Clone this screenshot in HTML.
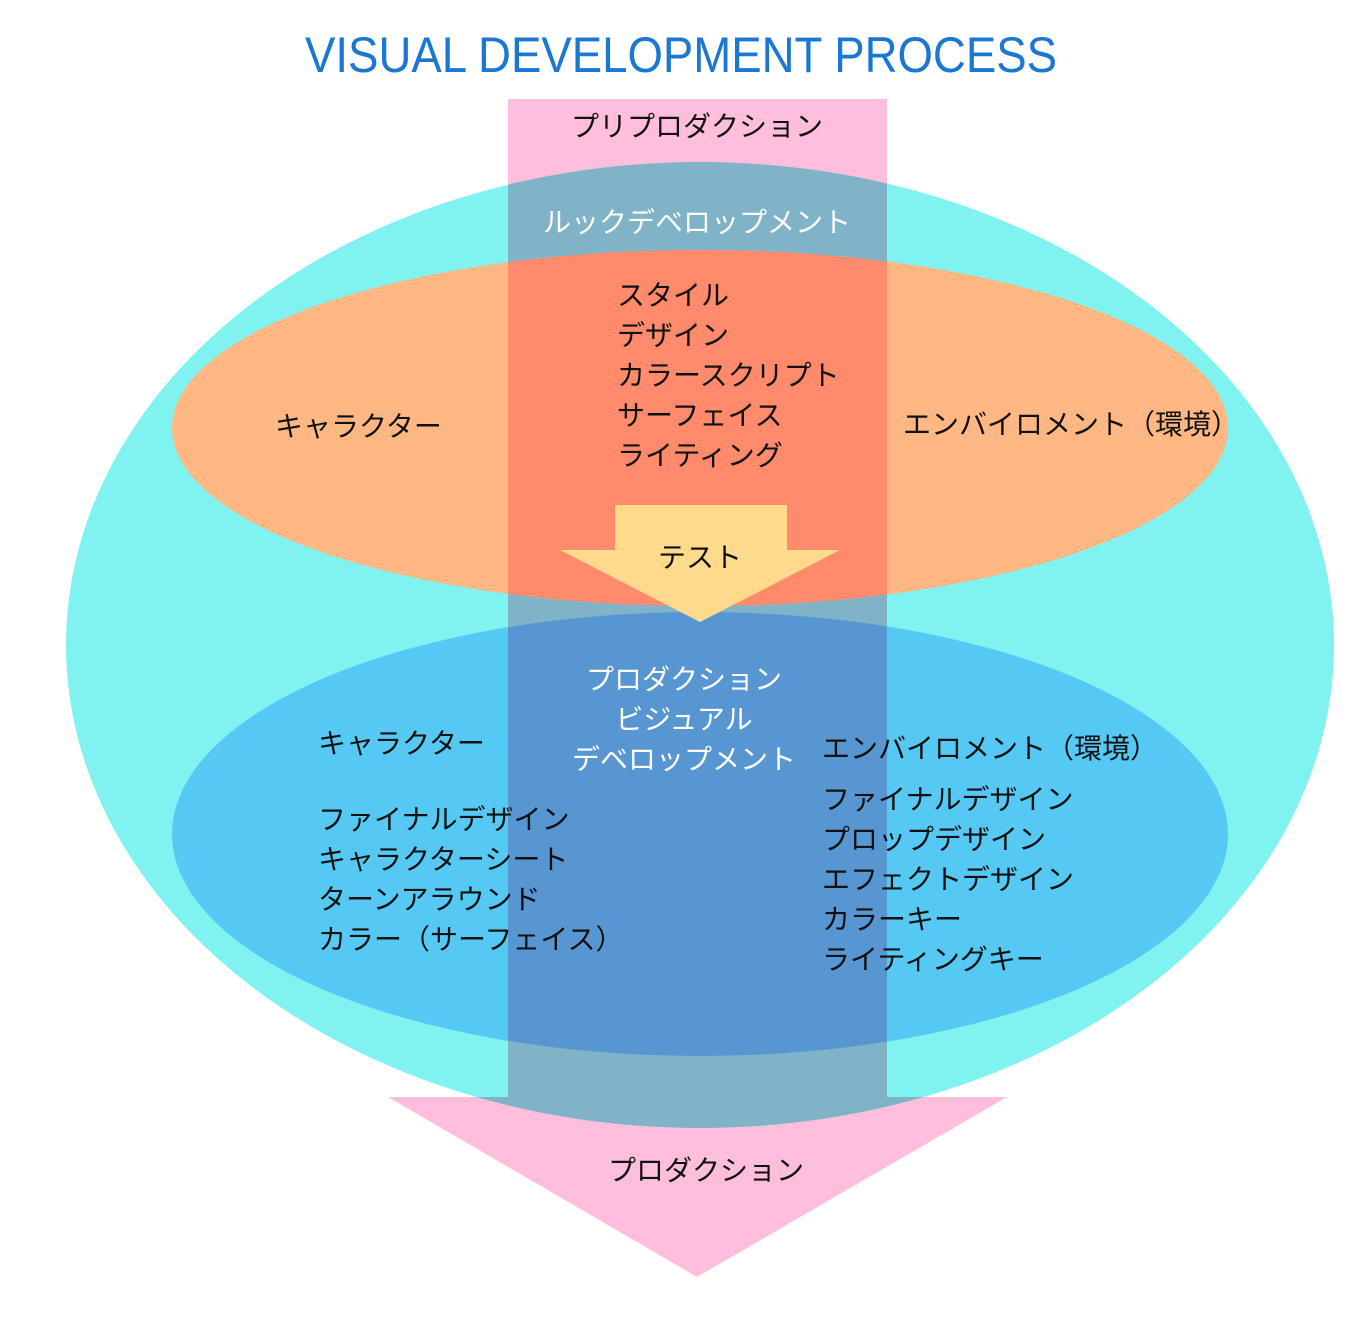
<!DOCTYPE html>
<html><head><meta charset="utf-8"><style>
html,body{margin:0;padding:0;background:#fff;}
svg{display:block}
text{font-family:"Liberation Sans","Noto Sans CJK JP",sans-serif;font-size:28px;fill:#111;}
.w{fill:#fff}
</style></head><body>
<svg width="1352" height="1334" viewBox="0 0 1352 1334" xmlns="http://www.w3.org/2000/svg">
<defs>
<clipPath id="cc"><ellipse cx="700" cy="645" rx="634" ry="483"/></clipPath>
<clipPath id="co"><ellipse cx="700" cy="428" rx="528" ry="178"/></clipPath>
<clipPath id="cb"><ellipse cx="700" cy="834" rx="528" ry="222"/></clipPath>
</defs>
<text x="681" y="72" text-anchor="middle" style="font-size:50px;fill:#1a78d2" textLength="752" lengthAdjust="spacingAndGlyphs">VISUAL DEVELOPMENT PROCESS</text>
<rect x="508" y="99" width="379" height="1000" fill="#ffbfdc"/>
<polygon points="388,1097 1007,1097 697,1277" fill="#ffbfdc"/>
<ellipse cx="700" cy="645" rx="634" ry="483" fill="#80f2f0"/>
<g clip-path="url(#cc)" fill="#80b2c8">
<rect x="508" y="99" width="379" height="1000"/>
<polygon points="388,1097 1007,1097 697,1277"/>
</g>
<ellipse cx="700" cy="428" rx="528" ry="178" fill="#ffb884"/>
<rect x="508" y="240" width="379" height="380" fill="#ff8a6c" clip-path="url(#co)"/>
<ellipse cx="700" cy="834" rx="528" ry="222" fill="#55c9f3"/>
<rect x="508" y="600" width="379" height="470" fill="#5896d2" clip-path="url(#cb)"/>
<polygon points="615,505 787,505 787,550 840,550 700,622 560,550 615,550" fill="#ffd98c"/>

<text x="697" y="136" text-anchor="middle">プリプロダクション</text>
<text x="697" y="232" text-anchor="middle" class="w">ルックデベロップメント</text>
<text x="617" y="305">スタイル</text>
<text x="617" y="345">デザイン</text>
<text x="617" y="385">カラースクリプト</text>
<text x="617" y="425">サーフェイス</text>
<text x="617" y="465">ライティング</text>
<text x="275" y="436">キャラクター</text>
<text x="903" y="434">エンバイロメント（環境）</text>
<text x="700" y="567" text-anchor="middle">テスト</text>
<text x="684" y="689" text-anchor="middle" class="w">プロダクション</text>
<text x="684" y="729" text-anchor="middle" class="w">ビジュアル</text>
<text x="684" y="769" text-anchor="middle" class="w">デベロップメント</text>
<text x="318" y="753">キャラクター</text>
<text x="318" y="829">ファイナルデザイン</text>
<text x="318" y="869">キャラクターシート</text>
<text x="318" y="909">ターンアラウンド</text>
<text x="318" y="949">カラー（サーフェイス）</text>
<text x="822" y="758">エンバイロメント（環境）</text>
<text x="822" y="809">ファイナルデザイン</text>
<text x="822" y="849">プロップデザイン</text>
<text x="822" y="889">エフェクトデザイン</text>
<text x="822" y="929">カラーキー</text>
<text x="822" y="969">ライティングキー</text>
<text x="706" y="1180" text-anchor="middle">プロダクション</text>
</svg>
</body></html>
